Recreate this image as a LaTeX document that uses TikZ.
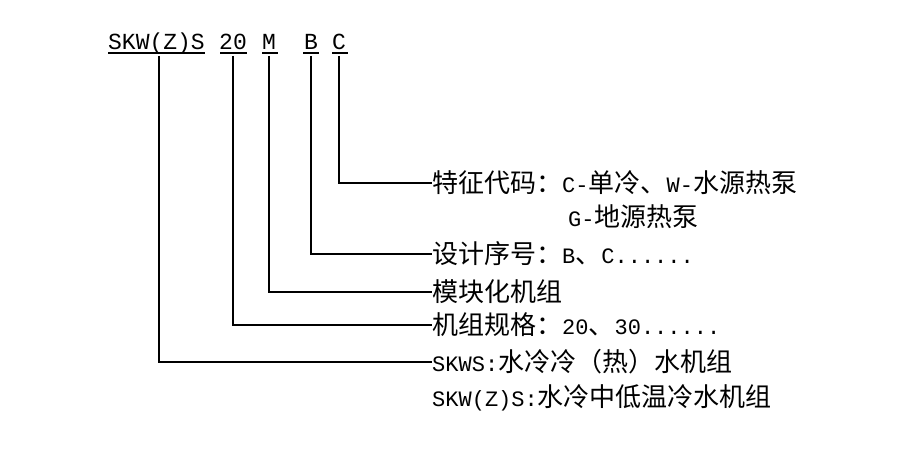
\documentclass[tikz,border=0pt]{standalone}
\usepackage{fontspec}
\setmainfont{Liberation Mono}
\newfontfamily\cjk{Noto Sans CJK SC}
\newcommand{\C}[1]{{\cjk\fontsize{26}{28}\selectfont #1}}
\begin{document}
\begin{tikzpicture}[x=1pt,y=-1pt,
  lbl/.style={anchor=west,inner sep=0pt,font=\fontsize{22}{28}\selectfont},
  top/.style={anchor=base,inner sep=0pt,font=\fontsize{23}{26}\selectfont},
  ln/.style={line width=1.2pt}]
\useasboundingbox (0,0) rectangle (904,452);
\node[top] (t1) at (156.5,49) {SKW(Z)S};
\node[top] (t2) at (233,49) {20};
\node[top] (t3) at (269,49) {M};
\node[top] (t4) at (311,49) {B};
\node[top] (t5) at (339,49) {C};
\foreach \a/\b in {108/205,220/247,262/278,303/319,332/348}
  \draw[ln] (\a,53) -- (\b,53);
\node[lbl] (l1) at (432,183) {\C{特征代码：}C-\C{单冷、}W-\C{水源热泵}};
\node[lbl] (l1b) at (568,217) {G-\C{地源热泵}};
\node[lbl] (l2) at (432,254) {\C{设计序号：}B\C{、}C......};
\node[lbl] (l3) at (432,292) {\C{模块化机组}};
\node[lbl] (l4) at (432,325) {\C{机组规格：}20\C{、}30......};
\node[lbl] (l5) at (432,362) {SKWS:\C{水冷冷（热）水机组}};
\node[lbl] (l6) at (432,398) {SKW(Z)S:\C{水冷中低温冷水机组}};
\draw[ln] (339,56) |- (l1.west);
\draw[ln] (311,56) |- (l2.west);
\draw[ln] (269,56) |- (l3.west);
\draw[ln] (233,56) |- (l4.west);
\draw[ln] (159,56) |- (l5.west);
\end{tikzpicture}
\end{document}
